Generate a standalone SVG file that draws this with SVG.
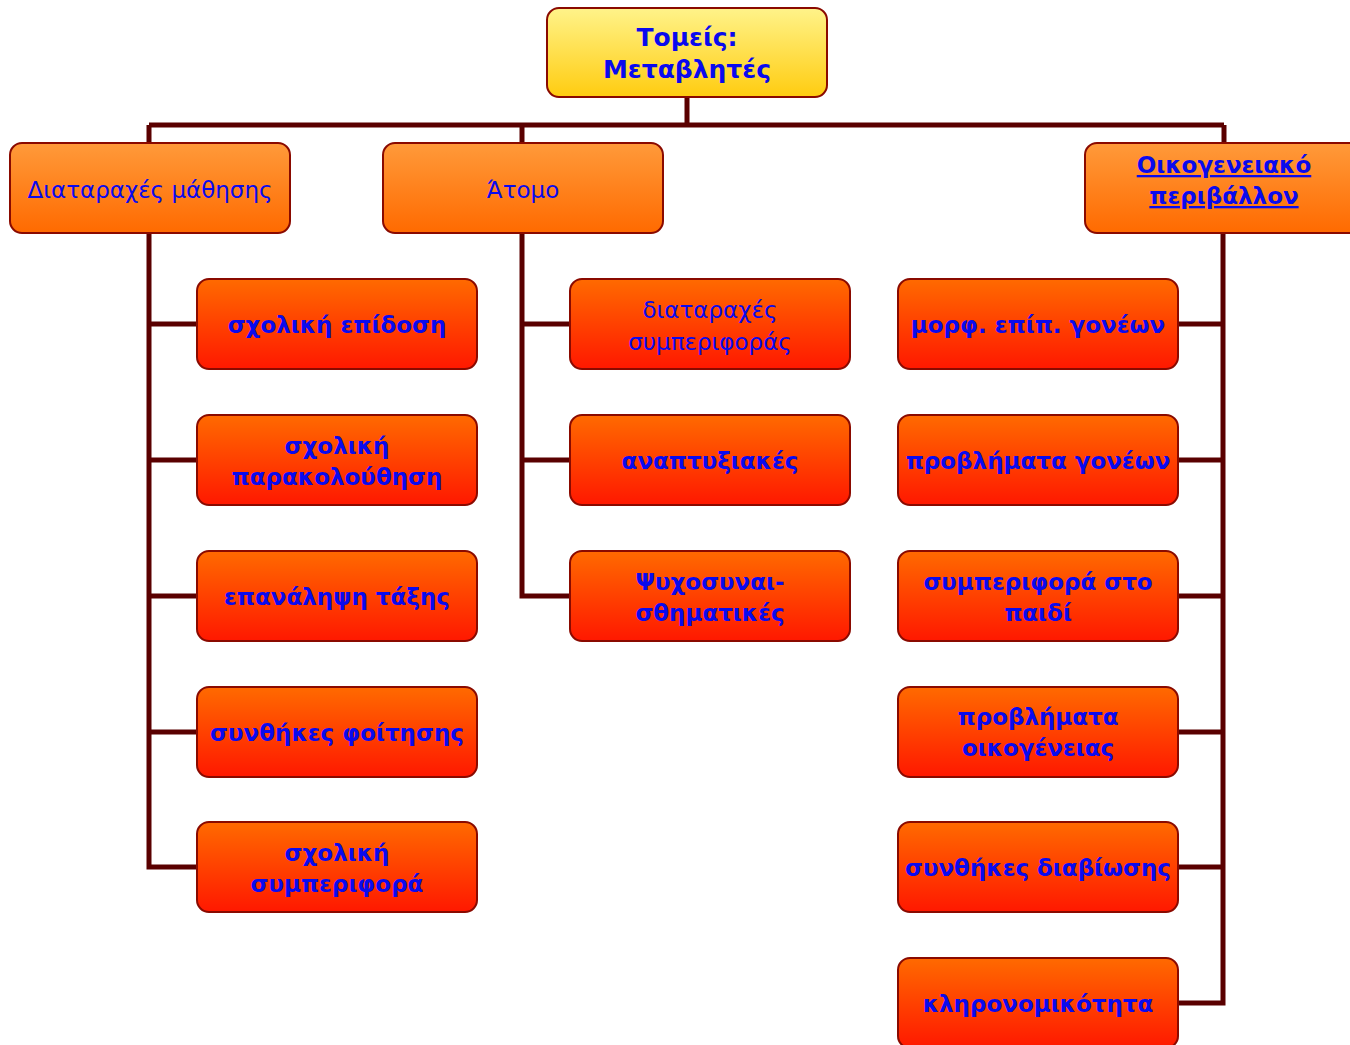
<svg xmlns="http://www.w3.org/2000/svg" width="1350" height="1045" viewBox="0 0 1350 1045">
<defs>
<linearGradient id="gRoot" x1="0" y1="0" x2="0" y2="1"><stop offset="0" stop-color="#fff38a"/><stop offset="1" stop-color="#ffcc10"/></linearGradient>
<linearGradient id="gL1" x1="0" y1="0" x2="0" y2="1"><stop offset="0" stop-color="#ff9a3a"/><stop offset="1" stop-color="#ff6a00"/></linearGradient>
<linearGradient id="gL2" x1="0" y1="0" x2="0" y2="1"><stop offset="0" stop-color="#ff6a00"/><stop offset="1" stop-color="#ff1800"/></linearGradient>
</defs>
<style>
.box{stroke:#8a0a00;stroke-width:2}
.root{fill:url(#gRoot)}
.l1{fill:url(#gL1)}
.l2{fill:url(#gL2)}
text{font-family:"DejaVu Sans","Liberation Sans",sans-serif;fill:#0a0aee;text-anchor:middle;font-size:23px}
.b{font-weight:bold}
.rt{font-size:25px;font-weight:bold}
.conn{fill:none;stroke:#5a0000;stroke-width:5}
</style>
<g id="connectors" class="conn">
<path d="M687,97 V125 M149,125 H1224 M149,125 V143 M522,125 V143 M1224,125 V143"/>
<path d="M149,233 V867 H197 M149,324 H197 M149,460 H197 M149,596 H197 M149,732 H197"/>
<path d="M522,233 V596 H570 M522,324 H570 M522,460 H570"/>
<path d="M1223,233 V1003 H1178 M1223,324 H1178 M1223,460 H1178 M1223,596 H1178 M1223,732 H1178 M1223,867 H1178"/>
</g>
<g id="root"><rect class="box root" x="547" y="8" width="280" height="89" rx="12"/><text class="rt" x="687" y="46">Τομείς:</text><text class="rt" x="687" y="78">Μεταβλητές</text></g>
<g id="n-mathisi"><rect class="box l1" x="10" y="143" width="280" height="90" rx="12"/><text x="150" y="198">Διαταραχές μάθησης</text></g>
<g id="n-atomo"><rect class="box l1" x="383" y="143" width="280" height="90" rx="12"/><text x="523" y="198">Άτομο</text></g>
<g id="n-oikog"><rect class="box l1" x="1085" y="143" width="280" height="90" rx="12"/><text class="b" x="1224" y="173" text-decoration="underline">Οικογενειακό</text><text class="b" x="1224" y="204" text-decoration="underline">περιβάλλον</text></g>
<g id="c1"><rect class="box l2" x="197" y="279" width="280" height="90" rx="12"/><text class="b" x="337" y="333">σχολική επίδοση</text></g>
<g id="c2"><rect class="box l2" x="197" y="415" width="280" height="90" rx="12"/><text class="b" x="337" y="454">σχολική</text><text class="b" x="337" y="485">παρακολούθηση</text></g>
<g id="c3"><rect class="box l2" x="197" y="551" width="280" height="90" rx="12"/><text class="b" x="337" y="605">επανάληψη τάξης</text></g>
<g id="c4"><rect class="box l2" x="197" y="687" width="280" height="90" rx="12"/><text class="b" x="337" y="741">συνθήκες φοίτησης</text></g>
<g id="c5"><rect class="box l2" x="197" y="822" width="280" height="90" rx="12"/><text class="b" x="337" y="861">σχολική</text><text class="b" x="337" y="892">συμπεριφορά</text></g>
<g id="a1"><rect class="box l2" x="570" y="279" width="280" height="90" rx="12"/><text x="710" y="318">διαταραχές</text><text x="710" y="350">συμπεριφοράς</text></g>
<g id="a2"><rect class="box l2" x="570" y="415" width="280" height="90" rx="12"/><text class="b" x="710" y="469">αναπτυξιακές</text></g>
<g id="a3"><rect class="box l2" x="570" y="551" width="280" height="90" rx="12"/><text class="b" x="710" y="590">Ψυχοσυναι-</text><text class="b" x="710" y="621">σθηματικές</text></g>
<g id="f1"><rect class="box l2" x="898" y="279" width="280" height="90" rx="12"/><text class="b" x="1038" y="333">μορφ. επίπ. γονέων</text></g>
<g id="f2"><rect class="box l2" x="898" y="415" width="280" height="90" rx="12"/><text class="b" x="1038" y="469">προβλήματα γονέων</text></g>
<g id="f3"><rect class="box l2" x="898" y="551" width="280" height="90" rx="12"/><text class="b" x="1038" y="590">συμπεριφορά στο</text><text class="b" x="1038" y="621">παιδί</text></g>
<g id="f4"><rect class="box l2" x="898" y="687" width="280" height="90" rx="12"/><text class="b" x="1038" y="725">προβλήματα</text><text class="b" x="1038" y="756">οικογένειας</text></g>
<g id="f5"><rect class="box l2" x="898" y="822" width="280" height="90" rx="12"/><text class="b" x="1038" y="876">συνθήκες διαβίωσης</text></g>
<g id="f6"><rect class="box l2" x="898" y="958" width="280" height="90" rx="12"/><text class="b" x="1038" y="1012">κληρονομικότητα</text></g>
</svg>
